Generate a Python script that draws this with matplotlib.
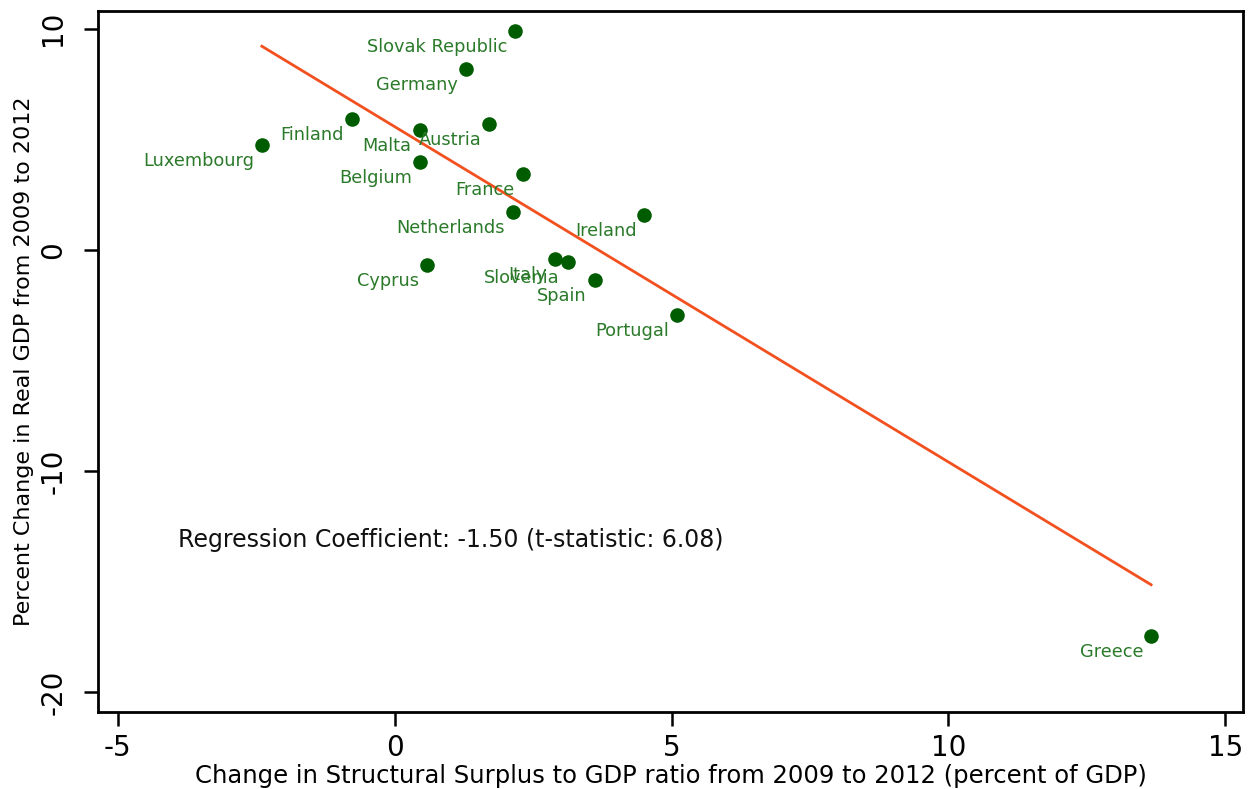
import numpy as np
import matplotlib
matplotlib.use("Agg")
import matplotlib.pyplot as plt

countries = ["Slovak Republic", "Germany", "Finland", "Malta", "Austria", "Luxembourg",
             "Belgium", "France", "Netherlands", "Ireland", "Cyprus", "Italy",
             "Slovenia", "Spain", "Portugal", "Greece"]
surplus_change = [2.18, 1.28, -0.78, 0.45, 1.71, -2.40, 0.45, 2.31, 2.13, 4.51,
                  0.58, 2.89, 3.12, 3.61, 5.09, 13.66]
gdp_change = [9.91, 8.19, 5.93, 5.43, 5.70, 4.75, 3.98, 3.44, 1.72, 1.58,
              -0.68, -0.41, -0.54, -1.36, -2.94, -17.47]
x_ticks = [-5, 0, 5, 10, 15]
y_ticks = [-20, -10, 0, 10]
annotation = "Regression Coefficient: -1.50 (t-statistic: 6.08)"

x = np.array(surplus_change)
y = np.array(gdp_change)
slope, intercept = np.polyfit(x, y, 1)
fit_x = np.array([x.min(), x.max()])
fit_y = intercept + slope * fit_x

fig = plt.figure(figsize=(12.57, 7.89), dpi=100)
ax = fig.add_axes([98/1257, 1 - 712/789, (1243-98)/1257, (712-11)/789])

ax.plot(fit_x, fit_y, color="#f2501e", lw=2, zorder=2)
ax.scatter(x, y, s=110, color="#005c00", zorder=3, linewidths=0)

for name, xi, yi in zip(countries, x, y):
    ax.annotate(name, (xi, yi), xytext=(-8, -7), textcoords="offset pixels",
                ha="right", va="top", color="#2a7a2a", fontsize=12.8,
                family="DejaVu Sans", zorder=4)

ax.text(-3.92, -13.1, annotation, fontsize=17, color="#111111", va="center", ha="left")

ax.set_xlim(-5.36, 15.32)
ax.set_ylim(-20.9, 10.8)
ax.set_xticks(x_ticks)
ax.set_yticks(y_ticks)
ax.set_xticklabels([str(t) for t in x_ticks], fontsize=20)
ax.set_yticklabels([str(t) for t in y_ticks], fontsize=20, rotation=90, va="center")
ax.tick_params(axis="both", direction="out", length=10, width=1.8, colors="black")
ax.tick_params(axis="x", pad=6)
ax.tick_params(axis="y", pad=12)
for s in ax.spines.values():
    s.set_linewidth(2)

ax.set_xlabel("Change in Structural Surplus to GDP ratio from 2009 to 2012 (percent of GDP)",
              fontsize=17.5, labelpad=1)
ax.set_ylabel("Percent Change in Real GDP from 2009 to 2012", fontsize=16, labelpad=4)

fig.savefig("out.png", dpi=100)
